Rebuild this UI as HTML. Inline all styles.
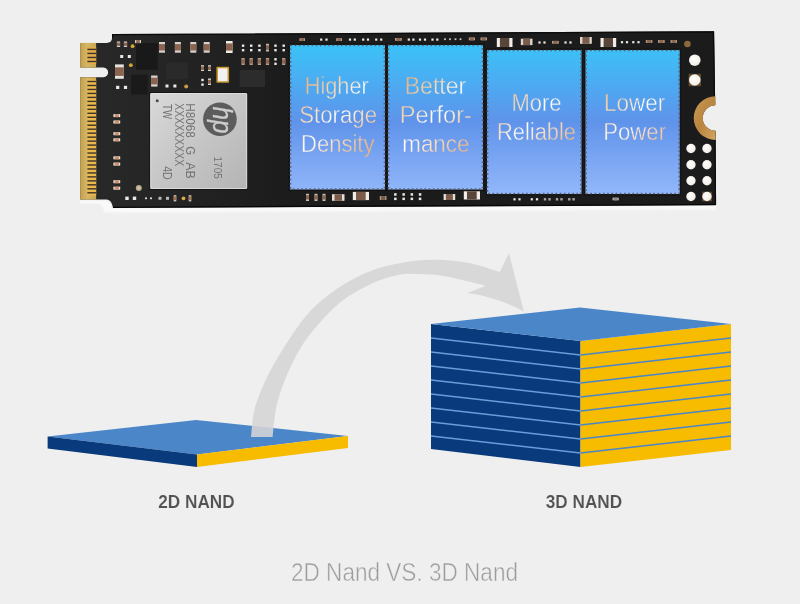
<!DOCTYPE html>
<html lang="en"><head><meta charset="utf-8"><title>2D Nand VS. 3D Nand</title>
<style>
html,body{margin:0;padding:0;background:#efefef;overflow:hidden}
svg{display:block}
text{font-family:"Liberation Sans",sans-serif}
</style></head><body>
<svg width="800" height="604" viewBox="0 0 800 604">
<defs>
<linearGradient id="pg" gradientUnits="userSpaceOnUse" x1="0" y1="44" x2="0" y2="194">
<stop offset="0" stop-color="#3ac3f7"/><stop offset="0.22" stop-color="#49aff3"/><stop offset="0.52" stop-color="#5f93ea"/><stop offset="0.8" stop-color="#7ea8f4"/><stop offset="1" stop-color="#91b8fa"/>
</linearGradient>
<linearGradient id="tg0" gradientUnits="userSpaceOnUse" x1="305" y1="84" x2="369" y2="148"><stop offset="0" stop-color="#ecb480"/><stop offset="0.3" stop-color="#f8dcc0"/><stop offset="0.5" stop-color="#ffffff"/><stop offset="0.7" stop-color="#f8dcc0"/><stop offset="1" stop-color="#ecb480"/></linearGradient>
<linearGradient id="tg1" gradientUnits="userSpaceOnUse" x1="404" y1="84" x2="468" y2="148"><stop offset="0" stop-color="#ecb480"/><stop offset="0.3" stop-color="#f8dcc0"/><stop offset="0.5" stop-color="#ffffff"/><stop offset="0.7" stop-color="#f8dcc0"/><stop offset="1" stop-color="#ecb480"/></linearGradient>
<linearGradient id="tg2" gradientUnits="userSpaceOnUse" x1="503" y1="86" x2="567" y2="150"><stop offset="0" stop-color="#ecb480"/><stop offset="0.3" stop-color="#f8dcc0"/><stop offset="0.5" stop-color="#ffffff"/><stop offset="0.7" stop-color="#f8dcc0"/><stop offset="1" stop-color="#ecb480"/></linearGradient>
<linearGradient id="tg3" gradientUnits="userSpaceOnUse" x1="602" y1="86" x2="666" y2="150"><stop offset="0" stop-color="#ecb480"/><stop offset="0.3" stop-color="#f8dcc0"/><stop offset="0.5" stop-color="#ffffff"/><stop offset="0.7" stop-color="#f8dcc0"/><stop offset="1" stop-color="#ecb480"/></linearGradient>
<linearGradient id="pcbg" gradientUnits="userSpaceOnUse" x1="80" y1="0" x2="716" y2="0"><stop offset="0" stop-color="#29292a"/><stop offset="0.12" stop-color="#252526"/><stop offset="0.32" stop-color="#1c1c1d"/><stop offset="1" stop-color="#1b1b1c"/></linearGradient>
<linearGradient id="gold" x1="0" y1="0" x2="1" y2="0">
<stop offset="0" stop-color="#c2a050"/><stop offset="0.45" stop-color="#d6b765"/><stop offset="1" stop-color="#c9a651"/>
</linearGradient>
<linearGradient id="chipg" x1="0" y1="0" x2="1" y2="1">
<stop offset="0" stop-color="#d9d9d9"/><stop offset="0.5" stop-color="#c6c6c6"/><stop offset="1" stop-color="#b4b4b4"/>
</linearGradient>
<linearGradient id="ring" x1="0" y1="0" x2="1" y2="1">
<stop offset="0" stop-color="#c99a55"/><stop offset="0.5" stop-color="#b98540"/><stop offset="1" stop-color="#d3a664"/>
</linearGradient>
<radialGradient id="pad" cx="0.4" cy="0.4" r="0.7">
<stop offset="0" stop-color="#ffffff"/><stop offset="0.75" stop-color="#f4efe8"/><stop offset="1" stop-color="#c9b79c"/>
</radialGradient>
</defs>
<rect width="800" height="604" fill="#efefef"/>

<g id="ssd">
<path d="M80 200.4 L106 200.4 Q110.5 201 112 208.5 L716 205.8 L716 209.3 L104 212.2 Q103 204.5 98 203.6 L80 203.6 Z" fill="#f9f9f9" opacity="0.9"/>
<path d="M104 212.2 L716 209.3 L716 210.8 L104 213.8 Z" fill="#f4f4f4" opacity="0.8"/>
<path d="M80.2 42.9 L106.5 42.9 Q111.8 42.9 112.1 38 L112.1 34.1 L714.1 31.3 L715.2 105.3 A12.7 12.7 0 0 0 715.5 130.7 L716.1 205.1 L113 207.8 Q111.6 200 107 199.6 L80.2 199.6 L80.2 77.25 L103.5 77.25 A4.83 4.83 0 0 0 103.5 67.6 L80.2 67.6 Z" fill="url(#pcbg)"/>
<path d="M113 207.3 L715.6 204.6" stroke="#060606" stroke-width="1.3" fill="none"/>
<path d="M112.6 38 L112.6 34.7 L713.5 31.9 L714.6 105" stroke="#0a0a0a" stroke-width="1.2" fill="none"/>
<path d="M715 131 L715.5 204.6" stroke="#0a0a0a" stroke-width="1.2" fill="none"/>
<rect x="80.2" y="42.9" width="15.9" height="24.7" fill="url(#gold)"/>
<rect x="80.2" y="77.25" width="15.9" height="122.35" fill="url(#gold)"/>
<rect x="87.4" y="47" width="8.8" height="17" fill="#e2ab4c"/>
<rect x="87.4" y="79.5" width="8.8" height="116" fill="#eab84e"/>
<rect x="87.4" y="48.70" width="9" height="1.4" fill="#3d3426"/>
<rect x="87.4" y="52.73" width="9" height="1.4" fill="#3d3426"/>
<rect x="87.4" y="56.76" width="9" height="1.4" fill="#3d3426"/>
<rect x="87.4" y="60.79" width="9" height="1.4" fill="#3d3426"/>
<rect x="87.4" y="80.80" width="9" height="1.4" fill="#3d3426"/>
<rect x="87.4" y="84.77" width="9" height="1.4" fill="#3d3426"/>
<rect x="87.4" y="88.75" width="9" height="1.4" fill="#3d3426"/>
<rect x="87.4" y="92.72" width="9" height="1.4" fill="#3d3426"/>
<rect x="87.4" y="96.70" width="9" height="1.4" fill="#3d3426"/>
<rect x="87.4" y="100.67" width="9" height="1.4" fill="#3d3426"/>
<rect x="87.4" y="104.65" width="9" height="1.4" fill="#3d3426"/>
<rect x="87.4" y="108.62" width="9" height="1.4" fill="#3d3426"/>
<rect x="87.4" y="112.60" width="9" height="1.4" fill="#3d3426"/>
<rect x="87.4" y="116.57" width="9" height="1.4" fill="#3d3426"/>
<rect x="87.4" y="120.55" width="9" height="1.4" fill="#3d3426"/>
<rect x="87.4" y="124.52" width="9" height="1.4" fill="#3d3426"/>
<rect x="87.4" y="128.50" width="9" height="1.4" fill="#3d3426"/>
<rect x="87.4" y="132.47" width="9" height="1.4" fill="#3d3426"/>
<rect x="87.4" y="136.45" width="9" height="1.4" fill="#3d3426"/>
<rect x="87.4" y="140.42" width="9" height="1.4" fill="#3d3426"/>
<rect x="87.4" y="144.40" width="9" height="1.4" fill="#3d3426"/>
<rect x="87.4" y="148.37" width="9" height="1.4" fill="#3d3426"/>
<rect x="87.4" y="152.35" width="9" height="1.4" fill="#3d3426"/>
<rect x="87.4" y="156.32" width="9" height="1.4" fill="#3d3426"/>
<rect x="87.4" y="160.30" width="9" height="1.4" fill="#3d3426"/>
<rect x="87.4" y="164.27" width="9" height="1.4" fill="#3d3426"/>
<rect x="87.4" y="168.25" width="9" height="1.4" fill="#3d3426"/>
<rect x="87.4" y="172.22" width="9" height="1.4" fill="#3d3426"/>
<rect x="87.4" y="176.20" width="9" height="1.4" fill="#3d3426"/>
<rect x="87.4" y="180.17" width="9" height="1.4" fill="#3d3426"/>
<rect x="87.4" y="184.15" width="9" height="1.4" fill="#3d3426"/>
<rect x="87.4" y="188.12" width="9" height="1.4" fill="#3d3426"/>
<rect x="87.4" y="192.10" width="9" height="1.4" fill="#3d3426"/>
<path d="M715.3 96.3 A21.8 21.8 0 0 0 715.7 139.9 L715.6 130.7 A12.7 12.7 0 0 1 715.4 105.3 Z" fill="url(#ring)"/>
</g>
<g id="parts">
<rect x="136.0" y="43.0" width="21.7" height="26.7" rx="0.8" fill="#19191a"/>
<rect x="131.0" y="74.7" width="16.8" height="19.8" rx="0.8" fill="#1a1a1b"/>
<rect x="166.0" y="62.6" width="22.0" height="16.7" rx="0.8" fill="#2a2a2b"/>
<rect x="239.6" y="70.0" width="25.4" height="17.0" rx="0.8" fill="#2c2c2d"/>
<rect x="116.9" y="41.5" width="3.2" height="5.5" fill="#d8d2cc"/>
<rect x="116.9" y="42.6" width="3.2" height="3.3" fill="#8a6450"/>
<rect x="123.9" y="41.5" width="3.2" height="5.5" fill="#d8d2cc"/>
<rect x="123.9" y="42.6" width="3.2" height="3.3" fill="#8a6450"/>
<rect x="135.0" y="40.1" width="6.0" height="3.0" fill="#d8d2cc"/>
<rect x="136.2" y="40.1" width="3.6" height="3.0" fill="#8a6450"/>
<circle cx="132.6" cy="46.2" r="1.9" fill="#d9a531"/>
<circle cx="130.8" cy="65.2" r="1.9" fill="#d9a531"/>
<rect x="120.2" y="55.0" width="3.0" height="3.0" fill="#ece9e4"/>
<rect x="127.8" y="55.0" width="3.0" height="3.0" fill="#ece9e4"/>
<rect x="115.0" y="64.4" width="8.8" height="14.4" fill="#e6e2dd"/>
<rect x="115.0" y="67.3" width="8.8" height="8.6" fill="#8a6450"/>
<rect x="116.1" y="85.8" width="3.2" height="3.2" fill="#ece9e4"/>
<rect x="123.9" y="85.8" width="3.2" height="3.2" fill="#ece9e4"/>
<rect x="151.1" y="75.5" width="6.4" height="11.1" fill="#d8d2cc"/>
<rect x="151.1" y="77.7" width="6.4" height="6.7" fill="#8a6450"/>
<rect x="159.0" y="42.0" width="6.0" height="10.7" fill="#d8d2cc"/>
<rect x="159.0" y="44.1" width="6.0" height="6.4" fill="#8a6450"/>
<rect x="174.9" y="42.0" width="6.0" height="10.7" fill="#d8d2cc"/>
<rect x="174.9" y="44.1" width="6.0" height="6.4" fill="#8a6450"/>
<rect x="190.3" y="42.0" width="6.0" height="10.7" fill="#d8d2cc"/>
<rect x="190.3" y="44.1" width="6.0" height="6.4" fill="#8a6450"/>
<rect x="203.7" y="42.0" width="6.0" height="10.7" fill="#d8d2cc"/>
<rect x="203.7" y="44.1" width="6.0" height="6.4" fill="#8a6450"/>
<rect x="226.0" y="41.0" width="6.6" height="12.0" fill="#efece8"/>
<rect x="226.0" y="43.4" width="6.6" height="7.2" fill="#8a6450"/>
<rect x="241.9" y="44.5" width="2.4" height="2.4" fill="#ece9e4"/>
<rect x="241.9" y="49.0" width="2.4" height="2.4" fill="#ece9e4"/>
<rect x="241.5" y="58.0" width="3.2" height="7.0" fill="#b59c86"/>
<rect x="241.5" y="59.4" width="3.2" height="4.2" fill="#8a6450"/>
<rect x="250.0" y="44.5" width="2.4" height="2.4" fill="#ece9e4"/>
<rect x="250.0" y="49.0" width="2.4" height="2.4" fill="#ece9e4"/>
<rect x="249.6" y="58.0" width="3.2" height="7.0" fill="#b59c86"/>
<rect x="249.6" y="59.4" width="3.2" height="4.2" fill="#8a6450"/>
<rect x="258.2" y="44.5" width="2.4" height="2.4" fill="#ece9e4"/>
<rect x="258.2" y="49.0" width="2.4" height="2.4" fill="#ece9e4"/>
<rect x="257.8" y="58.0" width="3.2" height="7.0" fill="#b59c86"/>
<rect x="257.8" y="59.4" width="3.2" height="4.2" fill="#8a6450"/>
<rect x="266.0" y="43.8" width="3.0" height="7.7" fill="#c9b9a8"/>
<rect x="266.0" y="45.3" width="3.0" height="4.6" fill="#8a6450"/>
<rect x="265.9" y="58.0" width="3.2" height="7.0" fill="#b59c86"/>
<rect x="265.9" y="59.4" width="3.2" height="4.2" fill="#8a6450"/>
<rect x="274.3" y="44.5" width="2.4" height="2.4" fill="#ece9e4"/>
<rect x="274.3" y="49.0" width="2.4" height="2.4" fill="#ece9e4"/>
<rect x="274.3" y="58.1" width="2.4" height="2.4" fill="#ece9e4"/>
<rect x="274.3" y="62.6" width="2.4" height="2.4" fill="#ece9e4"/>
<rect x="282.5" y="44.5" width="2.4" height="2.4" fill="#ece9e4"/>
<rect x="282.5" y="49.0" width="2.4" height="2.4" fill="#ece9e4"/>
<rect x="282.1" y="58.0" width="3.2" height="7.0" fill="#b59c86"/>
<rect x="282.1" y="59.4" width="3.2" height="4.2" fill="#8a6450"/>
<rect x="216.4" y="66.7" width="12.7" height="16.1" rx="1" fill="#c9982e"/>
<rect x="218" y="68.3" width="9.5" height="12.9" rx="0.5" fill="#f2f2f2"/>
<rect x="201.0" y="65.2" width="3.0" height="5.8" fill="#d8d2cc"/>
<rect x="201.0" y="66.4" width="3.0" height="3.5" fill="#8a6450"/>
<rect x="208.0" y="65.2" width="3.0" height="5.8" fill="#d8d2cc"/>
<rect x="208.0" y="66.4" width="3.0" height="3.5" fill="#8a6450"/>
<rect x="201.3" y="78.8" width="2.4" height="2.4" fill="#ece9e4"/>
<rect x="201.3" y="83.4" width="2.4" height="2.4" fill="#ece9e4"/>
<rect x="208.0" y="78.5" width="3.0" height="6.5" fill="#d8d2cc"/>
<rect x="208.0" y="79.8" width="3.0" height="3.9" fill="#8a6450"/>
<rect x="165.5" y="84.5" width="3.0" height="3.0" fill="#ece9e4"/>
<rect x="173.4" y="84.5" width="3.0" height="3.0" fill="#ece9e4"/>
<circle cx="186.2" cy="86.4" r="2.0" fill="#c79c46"/>
<rect x="113.4" y="114.1" width="6.8" height="3.0" fill="#e9e2da"/>
<rect x="114.8" y="114.1" width="4.1" height="3.0" fill="#c9906a"/>
<rect x="113.4" y="120.5" width="6.8" height="3.0" fill="#e9e2da"/>
<rect x="114.8" y="120.5" width="4.1" height="3.0" fill="#c9906a"/>
<rect x="113.4" y="132.2" width="6.8" height="3.0" fill="#e9e2da"/>
<rect x="114.8" y="132.2" width="4.1" height="3.0" fill="#c9906a"/>
<rect x="113.4" y="138.3" width="6.8" height="3.0" fill="#e9e2da"/>
<rect x="114.8" y="138.3" width="4.1" height="3.0" fill="#c9906a"/>
<rect x="113.4" y="156.3" width="6.8" height="3.0" fill="#e9e2da"/>
<rect x="114.8" y="156.3" width="4.1" height="3.0" fill="#c9906a"/>
<rect x="113.4" y="162.6" width="6.8" height="3.0" fill="#e9e2da"/>
<rect x="114.8" y="162.6" width="4.1" height="3.0" fill="#c9906a"/>
<rect x="113.4" y="180.2" width="6.8" height="3.0" fill="#e9e2da"/>
<rect x="114.8" y="180.2" width="4.1" height="3.0" fill="#c9906a"/>
<rect x="113.4" y="186.7" width="6.8" height="3.0" fill="#e9e2da"/>
<rect x="114.8" y="186.7" width="4.1" height="3.0" fill="#c9906a"/>
<circle cx="138.8" cy="188.0" r="3.0" fill="#b7a98e"/>
<circle cx="138.8" cy="188.0" r="1.8" fill="#cbbfa6"/>
<rect x="125.3" y="196.6" width="3.4" height="3.4" fill="#ece9e4"/>
<rect x="132.8" y="196.6" width="3.4" height="3.4" fill="#ece9e4"/>
<rect x="145.1" y="197.4" width="1.8" height="1.8" fill="#ece9e4"/>
<rect x="150.1" y="197.4" width="1.8" height="1.8" fill="#ece9e4"/>
<rect x="158.5" y="196.8" width="3.0" height="3.0" fill="#bdb9b4"/>
<rect x="166.0" y="196.8" width="3.0" height="3.0" fill="#bdb9b4"/>
<rect x="173.7" y="195.2" width="2.6" height="6.2" fill="#d8c8b8"/>
<rect x="173.7" y="196.4" width="2.6" height="3.7" fill="#a0704f"/>
<circle cx="183.5" cy="198.3" r="1.9" fill="#d9a94a"/>
<rect x="188.7" y="195.2" width="2.6" height="6.2" fill="#d8c8b8"/>
<rect x="188.7" y="196.4" width="2.6" height="3.7" fill="#a0704f"/>
</g>
<g id="chip">
<rect x="149.3" y="92" width="98.8" height="98" rx="1.5" fill="#151515"/>
<rect x="150.2" y="92.9" width="97" height="96.2" rx="1.2" fill="url(#chipg)"/>
<rect x="150.8" y="93.5" width="95.8" height="95" rx="1" fill="none" stroke="#ededed" stroke-width="0.9" opacity="0.65"/>
<circle cx="157.2" cy="100.7" r="1.5" fill="#4c4c4c"/>
<clipPath id="hpc"><circle cx="219.9" cy="119.2" r="16.3"/></clipPath>
<circle cx="219.9" cy="119.2" r="16.8" fill="#5c5c5d"/>
<g clip-path="url(#hpc)"><text transform="translate(212.9 119.9) rotate(90)" text-anchor="middle" font-size="28" font-style="italic" fill="#cdcdcd" stroke="#cdcdcd" stroke-width="0.35" textLength="27" lengthAdjust="spacingAndGlyphs">hp</text></g>
<text transform="translate(186.2 103.3) rotate(90)" font-size="12.9" fill="#727272" textLength="34.5" lengthAdjust="spacingAndGlyphs">H8068</text>
<text transform="translate(186.2 146.2) rotate(90)" font-size="12.9" fill="#727272" textLength="8.8" lengthAdjust="spacingAndGlyphs">G</text>
<text transform="translate(186.2 162.3) rotate(90)" font-size="12.9" fill="#727272" textLength="16.4" lengthAdjust="spacingAndGlyphs">AB</text>
<text transform="translate(174.5 103.3) rotate(90)" font-size="12.9" fill="#727272" textLength="62.9" lengthAdjust="spacingAndGlyphs">XXXXXXXXX</text>
<text transform="translate(162.9 104) rotate(90)" font-size="12.4" fill="#727272" textLength="15" lengthAdjust="spacingAndGlyphs">TW</text>
<text transform="translate(162.9 166.2) rotate(90)" font-size="12.4" fill="#727272" textLength="13.5" lengthAdjust="spacingAndGlyphs">4D</text>
<text transform="translate(214.2 156.6) rotate(90)" font-size="11" fill="#727272" textLength="22.1" lengthAdjust="spacingAndGlyphs">1705</text>
</g>
<g id="panels">
<rect x="288.4" y="43.4" width="98.2" height="147.7" fill="#141415"/>
<rect x="290" y="45" width="95" height="144.5" fill="url(#pg)"/>
<rect x="290.5" y="45.5" width="94.0" height="143.5" fill="none" stroke="#5c6070" stroke-width="1.7" stroke-dasharray="1.6 2.6"/>
<rect x="386.4" y="43.4" width="98.2" height="147.7" fill="#141415"/>
<rect x="388" y="45" width="95" height="144.5" fill="url(#pg)"/>
<rect x="388.5" y="45.5" width="94.0" height="143.5" fill="none" stroke="#5c6070" stroke-width="1.7" stroke-dasharray="1.6 2.6"/>
<rect x="485.4" y="48.4" width="97.7" height="147.2" fill="#141415"/>
<rect x="487" y="50" width="94.5" height="144" fill="url(#pg)"/>
<rect x="487.5" y="50.5" width="93.5" height="143.0" fill="none" stroke="#5c6070" stroke-width="1.7" stroke-dasharray="1.6 2.6"/>
<rect x="583.9" y="48.4" width="97.40000000000005" height="147.2" fill="#141415"/>
<rect x="585.5" y="50" width="94.20000000000005" height="144" fill="url(#pg)"/>
<rect x="586.0" y="50.5" width="93.20000000000005" height="143.0" fill="none" stroke="#5c6070" stroke-width="1.7" stroke-dasharray="1.6 2.6"/>
<text x="336.75" y="94.25" text-anchor="middle" font-size="24.2" fill="url(#tg0)" stroke="url(#pg)" stroke-width="0.4" textLength="64.0" lengthAdjust="spacingAndGlyphs">Higher</text>
<text x="338.12" y="123.00" text-anchor="middle" font-size="24.2" fill="url(#tg0)" stroke="url(#pg)" stroke-width="0.4" textLength="77.8" lengthAdjust="spacingAndGlyphs">Storage</text>
<text x="337.75" y="151.75" text-anchor="middle" font-size="24.2" fill="url(#tg0)" stroke="url(#pg)" stroke-width="0.4" textLength="73.5" lengthAdjust="spacingAndGlyphs">Density</text>
<text x="435.50" y="94.25" text-anchor="middle" font-size="24.2" fill="url(#tg1)" stroke="url(#pg)" stroke-width="0.4" textLength="61.5" lengthAdjust="spacingAndGlyphs">Better</text>
<text x="435.88" y="123.00" text-anchor="middle" font-size="24.2" fill="url(#tg1)" stroke="url(#pg)" stroke-width="0.4" textLength="72.2" lengthAdjust="spacingAndGlyphs">Perfor-</text>
<text x="435.88" y="151.75" text-anchor="middle" font-size="24.2" fill="url(#tg1)" stroke="url(#pg)" stroke-width="0.4" textLength="67.2" lengthAdjust="spacingAndGlyphs">mance</text>
<text x="536.50" y="110.75" text-anchor="middle" font-size="24.2" fill="url(#tg2)" stroke="url(#pg)" stroke-width="0.4" textLength="50.0" lengthAdjust="spacingAndGlyphs">More</text>
<text x="536.50" y="139.50" text-anchor="middle" font-size="24.2" fill="url(#tg2)" stroke="url(#pg)" stroke-width="0.4" textLength="79.0" lengthAdjust="spacingAndGlyphs">Reliable</text>
<text x="634.62" y="110.75" text-anchor="middle" font-size="24.2" fill="url(#tg3)" stroke="url(#pg)" stroke-width="0.4" textLength="61.2" lengthAdjust="spacingAndGlyphs">Lower</text>
<text x="634.62" y="139.50" text-anchor="middle" font-size="24.2" fill="url(#tg3)" stroke="url(#pg)" stroke-width="0.4" textLength="62.8" lengthAdjust="spacingAndGlyphs">Power</text>
</g>
<g id="parts2">
<rect x="299.5" y="38.2" width="5.5" height="2.8" fill="#b59c86"/>
<rect x="300.6" y="38.2" width="3.3" height="2.8" fill="#8a6450"/>
<rect x="320.1" y="38.5" width="2.2" height="2.2" fill="#ece9e4"/>
<rect x="325.4" y="38.5" width="2.2" height="2.2" fill="#ece9e4"/>
<rect x="348.9" y="38.5" width="2.2" height="2.2" fill="#ece9e4"/>
<rect x="353.7" y="38.5" width="2.2" height="2.2" fill="#ece9e4"/>
<rect x="362.1" y="38.5" width="2.2" height="2.2" fill="#ece9e4"/>
<rect x="366.9" y="38.5" width="2.2" height="2.2" fill="#ece9e4"/>
<rect x="375.1" y="38.5" width="2.2" height="2.2" fill="#ece9e4"/>
<rect x="380.1" y="38.5" width="2.2" height="2.2" fill="#ece9e4"/>
<rect x="407.7" y="38.5" width="2.2" height="2.2" fill="#ece9e4"/>
<rect x="412.3" y="38.5" width="2.2" height="2.2" fill="#ece9e4"/>
<rect x="418.9" y="38.5" width="2.2" height="2.2" fill="#ece9e4"/>
<rect x="423.9" y="38.5" width="2.2" height="2.2" fill="#ece9e4"/>
<rect x="431.4" y="38.5" width="2.2" height="2.2" fill="#ece9e4"/>
<rect x="436.2" y="38.5" width="2.2" height="2.2" fill="#ece9e4"/>
<rect x="444.1" y="38.3" width="1.8" height="1.8" fill="#c9c6c2"/>
<rect x="449.1" y="38.3" width="1.8" height="1.8" fill="#c9c6c2"/>
<rect x="454.6" y="38.3" width="1.8" height="1.8" fill="#c9c6c2"/>
<rect x="459.6" y="38.3" width="1.8" height="1.8" fill="#c9c6c2"/>
<rect x="336.2" y="38.2" width="5.8" height="2.8" fill="#b59c86"/>
<rect x="337.4" y="38.2" width="3.5" height="2.8" fill="#8a6450"/>
<rect x="395.0" y="38.0" width="6.8" height="2.8" fill="#b59c86"/>
<rect x="396.4" y="38.0" width="4.1" height="2.8" fill="#8a6450"/>
<rect x="468.8" y="37.5" width="6.2" height="2.8" fill="#b59c86"/>
<rect x="470.0" y="37.5" width="3.7" height="2.8" fill="#8a6450"/>
<rect x="480.5" y="37.5" width="6.5" height="2.8" fill="#b59c86"/>
<rect x="481.8" y="37.5" width="3.9" height="2.8" fill="#8a6450"/>
<rect x="496.8" y="38.0" width="15.7" height="9.0" fill="#efece8"/>
<rect x="499.9" y="38.0" width="9.4" height="9.0" fill="#5a453a"/>
<rect x="520.8" y="38.7" width="11.7" height="6.4" fill="#ddd6cf"/>
<rect x="523.1" y="38.7" width="7.0" height="6.4" fill="#7b5c4a"/>
<rect x="538.4" y="41.4" width="2.2" height="2.2" fill="#ece9e4"/>
<rect x="543.4" y="41.4" width="2.2" height="2.2" fill="#ece9e4"/>
<rect x="552.0" y="40.9" width="6.8" height="2.8" fill="#b59c86"/>
<rect x="553.4" y="40.9" width="4.1" height="2.8" fill="#8a6450"/>
<rect x="564.4" y="41.4" width="2.2" height="2.2" fill="#ece9e4"/>
<rect x="569.4" y="41.4" width="2.2" height="2.2" fill="#ece9e4"/>
<rect x="580.0" y="37.0" width="11.8" height="6.8" fill="#ddd6cf"/>
<rect x="582.4" y="37.0" width="7.1" height="6.8" fill="#7b5c4a"/>
<rect x="600.5" y="38.0" width="15.7" height="9.0" fill="#efece8"/>
<rect x="603.6" y="38.0" width="9.4" height="9.0" fill="#5a453a"/>
<rect x="620.9" y="41.1" width="2.2" height="2.2" fill="#ece9e4"/>
<rect x="625.9" y="41.1" width="2.2" height="2.2" fill="#ece9e4"/>
<rect x="632.2" y="41.1" width="2.2" height="2.2" fill="#ece9e4"/>
<rect x="637.4" y="41.1" width="2.2" height="2.2" fill="#ece9e4"/>
<rect x="645.8" y="40.1" width="6.6" height="2.8" fill="#b59c86"/>
<rect x="647.1" y="40.1" width="4.0" height="2.8" fill="#8a6450"/>
<rect x="658.0" y="40.1" width="6.7" height="2.8" fill="#b59c86"/>
<rect x="659.3" y="40.1" width="4.0" height="2.8" fill="#8a6450"/>
<rect x="670.5" y="40.1" width="6.5" height="2.8" fill="#b59c86"/>
<rect x="671.8" y="40.1" width="3.9" height="2.8" fill="#8a6450"/>
<rect x="306.0" y="193.8" width="3.0" height="7.2" fill="#cdbfb2"/>
<rect x="306.0" y="195.2" width="3.0" height="4.3" fill="#8a6450"/>
<rect x="314.5" y="193.8" width="3.0" height="7.2" fill="#cdbfb2"/>
<rect x="314.5" y="195.2" width="3.0" height="4.3" fill="#8a6450"/>
<rect x="322.5" y="193.8" width="3.0" height="7.2" fill="#cdbfb2"/>
<rect x="322.5" y="195.2" width="3.0" height="4.3" fill="#8a6450"/>
<rect x="332.0" y="194.2" width="12.5" height="6.6" fill="#e4dfd9"/>
<rect x="334.5" y="194.2" width="7.5" height="6.6" fill="#7b5c4a"/>
<rect x="352.8" y="191.9" width="16.2" height="8.2" fill="#efece8"/>
<rect x="356.0" y="191.9" width="9.7" height="8.2" fill="#7b5c4a"/>
<rect x="379.8" y="196.0" width="6.7" height="4.0" fill="#a99480"/>
<rect x="381.1" y="196.0" width="4.0" height="4.0" fill="#7b5c4a"/>
<rect x="394.1" y="193.2" width="2.5" height="2.5" fill="#ece9e4"/>
<rect x="394.1" y="197.6" width="2.5" height="2.5" fill="#ece9e4"/>
<rect x="402.4" y="193.2" width="2.5" height="2.5" fill="#ece9e4"/>
<rect x="402.4" y="197.6" width="2.5" height="2.5" fill="#ece9e4"/>
<rect x="410.6" y="193.2" width="2.5" height="2.5" fill="#ece9e4"/>
<rect x="410.6" y="197.6" width="2.5" height="2.5" fill="#ece9e4"/>
<rect x="418.8" y="193.2" width="2.5" height="2.5" fill="#ece9e4"/>
<rect x="418.8" y="197.6" width="2.5" height="2.5" fill="#ece9e4"/>
<rect x="443.6" y="194.0" width="11.6" height="6.0" fill="#e4dfd9"/>
<rect x="445.9" y="194.0" width="7.0" height="6.0" fill="#7b5c4a"/>
<rect x="463.8" y="191.3" width="16.2" height="8.2" fill="#efece8"/>
<rect x="467.0" y="191.3" width="9.7" height="8.2" fill="#5a453a"/>
<rect x="513.4" y="198.2" width="2.2" height="2.2" fill="#ece9e4"/>
<rect x="518.4" y="198.2" width="2.2" height="2.2" fill="#ece9e4"/>
<rect x="530.7" y="198.2" width="2.2" height="2.2" fill="#ece9e4"/>
<rect x="535.9" y="198.2" width="2.2" height="2.2" fill="#ece9e4"/>
<rect x="543.8" y="198.1" width="2.4" height="2.4" fill="#a9a6a2"/>
<rect x="548.3" y="198.1" width="2.4" height="2.4" fill="#a9a6a2"/>
<rect x="555.8" y="198.1" width="2.4" height="2.4" fill="#a9a6a2"/>
<rect x="560.3" y="198.1" width="2.4" height="2.4" fill="#a9a6a2"/>
<rect x="568.1" y="198.1" width="2.4" height="2.4" fill="#a9a6a2"/>
<rect x="572.4" y="198.1" width="2.4" height="2.4" fill="#a9a6a2"/>
<rect x="612.5" y="197.7" width="6.3" height="2.6" fill="#b5b2ae"/>
<rect x="613.8" y="197.7" width="3.8" height="2.6" fill="#8d8a86"/>
<circle cx="694.8" cy="60.2" r="5.8" fill="url(#pad)"/>
<rect x="688.6" y="73.8" width="12.4" height="12.4" fill="#7a5b35" opacity="0.75"/>
<circle cx="694.8" cy="80.0" r="5.8" fill="url(#pad)"/>
<circle cx="687.4" cy="44.0" r="3.3" fill="#8a6a3a"/>
<rect x="702.2" y="191.7" width="9.6" height="9.6" fill="#7a5b35" opacity="0.8"/>
<circle cx="691.0" cy="148.5" r="4.7" fill="url(#pad)"/>
<circle cx="707.0" cy="148.5" r="4.7" fill="url(#pad)"/>
<circle cx="691.0" cy="164.8" r="4.7" fill="url(#pad)"/>
<circle cx="707.0" cy="164.8" r="4.7" fill="url(#pad)"/>
<circle cx="691.0" cy="180.8" r="4.7" fill="url(#pad)"/>
<circle cx="707.0" cy="180.8" r="4.7" fill="url(#pad)"/>
<circle cx="691.0" cy="196.5" r="4.7" fill="url(#pad)"/>
<circle cx="707.0" cy="196.5" r="4.7" fill="url(#pad)"/>
</g>
<g id="nand2d">
<polygon points="47.6,436.4 196,420 348,436 197,454.4" fill="#4a86c8"/>
<polygon points="47.6,436.4 197,454.4 197,467 47.6,448.6" fill="#083a7c"/>
<polygon points="197,454.4 348,436 348,448 197,467" fill="#f7bb00"/>
</g>
<g id="nand3d">
<polygon points="431,324 580.5,341 580.5,467.0 431,449.0" fill="#083a7c"/>
<polygon points="580.5,341 731,324 731,450.0 580.5,467.0" fill="#f7bb00"/>
<line x1="431" y1="338.0" x2="580.5" y2="355.0" stroke="#6c9cd8" stroke-width="1.3"/>
<line x1="580.5" y1="355.0" x2="731" y2="338.0" stroke="#4a86c8" stroke-width="1.3"/>
<line x1="431" y1="352.0" x2="580.5" y2="369.0" stroke="#6c9cd8" stroke-width="1.3"/>
<line x1="580.5" y1="369.0" x2="731" y2="352.0" stroke="#4a86c8" stroke-width="1.3"/>
<line x1="431" y1="366.0" x2="580.5" y2="383.0" stroke="#6c9cd8" stroke-width="1.3"/>
<line x1="580.5" y1="383.0" x2="731" y2="366.0" stroke="#4a86c8" stroke-width="1.3"/>
<line x1="431" y1="380.0" x2="580.5" y2="397.0" stroke="#6c9cd8" stroke-width="1.3"/>
<line x1="580.5" y1="397.0" x2="731" y2="380.0" stroke="#4a86c8" stroke-width="1.3"/>
<line x1="431" y1="394.0" x2="580.5" y2="411.0" stroke="#6c9cd8" stroke-width="1.3"/>
<line x1="580.5" y1="411.0" x2="731" y2="394.0" stroke="#4a86c8" stroke-width="1.3"/>
<line x1="431" y1="408.0" x2="580.5" y2="425.0" stroke="#6c9cd8" stroke-width="1.3"/>
<line x1="580.5" y1="425.0" x2="731" y2="408.0" stroke="#4a86c8" stroke-width="1.3"/>
<line x1="431" y1="422.0" x2="580.5" y2="439.0" stroke="#6c9cd8" stroke-width="1.3"/>
<line x1="580.5" y1="439.0" x2="731" y2="422.0" stroke="#4a86c8" stroke-width="1.3"/>
<line x1="431" y1="436.0" x2="580.5" y2="453.0" stroke="#6c9cd8" stroke-width="1.3"/>
<line x1="580.5" y1="453.0" x2="731" y2="436.0" stroke="#4a86c8" stroke-width="1.3"/>
<polygon points="431,324 580,307.4 731,324 580.5,341" fill="#4a86c8"/>
</g>
<path id="arrow" d="M251 437.1 C251.8 431.9 251.8 417.9 255.5 406.0 C259.2 394.1 264.6 380.8 273.0 365.8 C281.4 350.8 295.0 329.1 306.0 316.0 C317.0 302.9 328.0 295.1 339.0 287.5 C350.0 279.9 361.5 274.6 372.0 270.5 C382.5 266.4 391.5 264.6 402.0 262.8 C412.5 261.0 423.7 259.7 435.0 259.8 C446.3 259.9 459.2 261.2 470.0 263.2 C480.8 265.2 494.8 270.5 499.8 272.0 L508.9 253.1 Q517 285 523.9 311.4 Q497 297 467.4 293 L485.2 285.9 C482.7 285.2 475.4 283.2 470.0 281.8 C464.6 280.4 458.3 278.9 452.5 277.7 C446.7 276.5 440.8 275.4 435.0 274.8 C429.2 274.2 423.3 273.9 417.5 273.9 C411.7 273.9 407.6 273.0 400.0 274.6 C392.4 276.2 382.2 278.7 372.0 283.5 C361.8 288.3 349.7 294.6 339.0 303.5 C328.3 312.4 316.2 326.1 308.0 337.0 C299.8 347.9 294.8 357.8 289.6 369.0 C284.4 380.2 279.8 392.6 277.0 404.0 C274.2 415.4 273.3 431.6 272.6 437.1 Z" fill="#d5d5d5" fill-opacity="0.88"/>
<text x="196.5" y="507.8" text-anchor="middle" font-size="17.8" font-weight="bold" fill="#525252" stroke="#efefef" stroke-width="0.12" textLength="76.4" lengthAdjust="spacingAndGlyphs">2D NAND</text>
<text x="584" y="507.8" text-anchor="middle" font-size="17.8" font-weight="bold" fill="#525252" stroke="#efefef" stroke-width="0.12" textLength="76.4" lengthAdjust="spacingAndGlyphs">3D NAND</text>
<text x="404.5" y="581" text-anchor="middle" font-size="26" fill="#9c9c9c" stroke="#efefef" stroke-width="0.5" textLength="227" lengthAdjust="spacingAndGlyphs">2D Nand VS. 3D Nand</text>
</svg></body></html>
